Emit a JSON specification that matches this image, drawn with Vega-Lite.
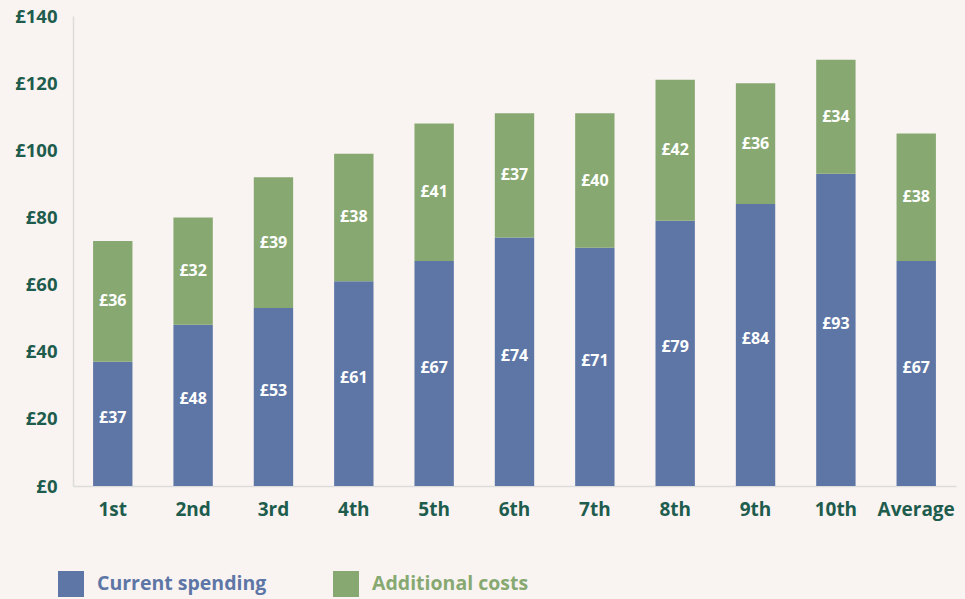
{
  "$schema": "https://vega.github.io/schema/vega-lite/v6.json",
  "width": 883,
  "height": 470,
  "autosize": {"type": "none"},
  "padding": {"left": 73, "top": 16, "right": 9, "bottom": 113},
  "background": "#f9f4f1",
  "config": {
    "view": {"stroke": null},
    "font": "Open Sans",
    "axis": {"domainColor": "#dcdcdc", "domainWidth": 1.5, "ticks": false, "grid": false, "labelFont": "Open Sans", "labelFontWeight": "bold", "labelColor": "#1e5c4e", "title": null}
  },
  "data": {
    "values": [
      {"decile": "1st", "series": "Current spending", "value": 37},
      {"decile": "1st", "series": "Additional costs", "value": 36},
      {"decile": "2nd", "series": "Current spending", "value": 48},
      {"decile": "2nd", "series": "Additional costs", "value": 32},
      {"decile": "3rd", "series": "Current spending", "value": 53},
      {"decile": "3rd", "series": "Additional costs", "value": 39},
      {"decile": "4th", "series": "Current spending", "value": 61},
      {"decile": "4th", "series": "Additional costs", "value": 38},
      {"decile": "5th", "series": "Current spending", "value": 67},
      {"decile": "5th", "series": "Additional costs", "value": 41},
      {"decile": "6th", "series": "Current spending", "value": 74},
      {"decile": "6th", "series": "Additional costs", "value": 37},
      {"decile": "7th", "series": "Current spending", "value": 71},
      {"decile": "7th", "series": "Additional costs", "value": 40},
      {"decile": "8th", "series": "Current spending", "value": 79},
      {"decile": "8th", "series": "Additional costs", "value": 42},
      {"decile": "9th", "series": "Current spending", "value": 84},
      {"decile": "9th", "series": "Additional costs", "value": 36},
      {"decile": "10th", "series": "Current spending", "value": 93},
      {"decile": "10th", "series": "Additional costs", "value": 34},
      {"decile": "Average", "series": "Current spending", "value": 67},
      {"decile": "Average", "series": "Additional costs", "value": 38}
    ]
  },
  "transform": [
    {"stack": "value", "groupby": ["decile"], "sort": [{"field": "series", "order": "descending"}], "as": ["v0", "v1"]},
    {"calculate": "(datum.v0 + datum.v1) / 2", "as": "labelPos"}
  ],
  "encoding": {
    "x": {
      "field": "decile", "type": "nominal", "sort": null,
      "scale": {"paddingInner": 0.51, "paddingOuter": 0.25},
      "axis": {"labelAngle": 0, "labelFontSize": 19, "labelPadding": 14}
    }
  },
  "layer": [
    {
      "mark": {"type": "bar"},
      "encoding": {
        "y": {"field": "v1", "type": "quantitative", "scale": {"domain": [0, 140], "nice": false},
          "axis": {"values": [0, 20, 40, 60, 80, 100, 120, 140], "format": "d", "labelExpr": "'£' + datum.label", "labelFontSize": 18.5, "labelPadding": 16}},
        "y2": {"field": "v0"},
        "color": {
          "field": "series", "type": "nominal",
          "scale": {"domain": ["Current spending", "Additional costs"], "range": ["#5d76a6", "#87a971"]},
          "legend": {
            "title": null, "orient": "none", "direction": "horizontal", "legendX": -15, "legendY": 555,
            "symbolType": "square", "symbolSize": 676, "symbolStrokeWidth": 0, "symbolOpacity": 1,
            "labelFont": "Open Sans", "labelFontWeight": "bold", "labelFontSize": 19.5, "labelOffset": 13, "labelLimit": 400,
            "columnPadding": 66, "labelColor": {"expr": "datum.label == 'Current spending' ? '#5d76a6' : '#87a971'"}
          }
        }
      }
    },
    {
      "mark": {"type": "text", "color": "white", "fontWeight": "bold", "fontSize": 16, "font": "Open Sans", "baseline": "middle",
        "text": {"expr": "'£' + datum.value"},
        "dy": {"expr": "datum.series == 'Current spending' ? -6 : 0"}},
      "encoding": {
        "y": {"field": "labelPos", "type": "quantitative"},
        "detail": {"field": "series"}
      }
    }
  ]
}
